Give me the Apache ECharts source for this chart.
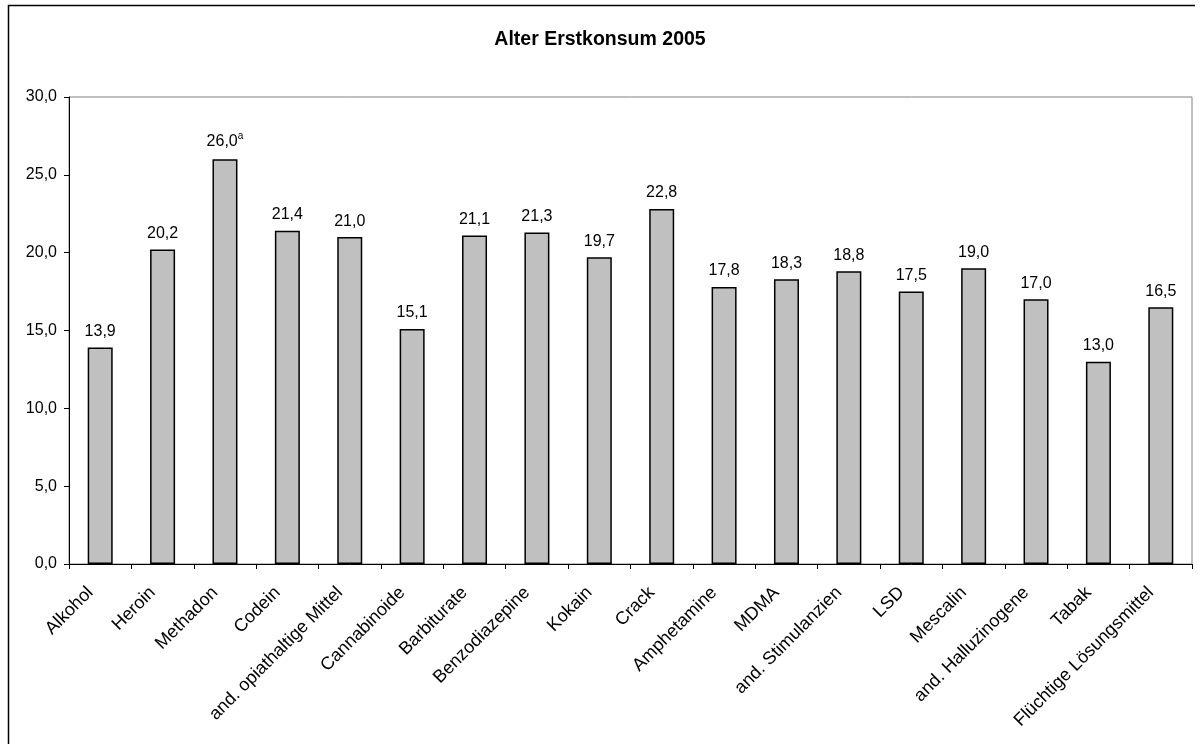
<!DOCTYPE html>
<html>
<head>
<meta charset="utf-8">
<script src="https://cdn.jsdelivr.net/npm/echarts@6/dist/echarts.min.js"></script>
<style>
html, body { margin: 0; padding: 0; background: #fff; }
#chart { width: 1200px; height: 744px; }
</style>
</head>
<body>
<div id="chart"></div>
<script>
// Daten
let categories = ['Alkohol', 'Heroin', 'Methadon', 'Codein', 'and. opiathaltige Mittel', 'Cannabinoide',
	'Barbiturate', 'Benzodiazepine', 'Kokain', 'Crack', 'Amphetamine', 'MDMA', 'and. Stimulanzien',
	'LSD', 'Mescalin', 'and. Halluzinogene', 'Tabak', 'Flüchtige Lösungsmittel'];
let alter = [13.9, 20.2, 26.0, 21.4, 21.0, 15.1, 21.1, 21.3, 19.7, 22.8, 17.8, 18.3, 18.8, 17.5, 19.0, 17.0, 13.0, 16.5];
let fussnoten = ['', '', 'a', '', '', '', '', '', '', '', '', '', '', '', '', '', '', ''];
let yTicks = [0, 5, 10, 15, 20, 25, 30];

function komma(v) {
	return v.toFixed(1).replace('.', ',');
}

let myChart = echarts.init(document.getElementById('chart'));
let font = '"Liberation Sans", Arial, sans-serif';

let option = {
	backgroundColor: '#fff',
	animation: false,
	title: {
		text: 'Alter Erstkonsum 2005',
		left: 'center',
		top: 25,
		textStyle: { fontFamily: font, fontSize: 19.5, fontWeight: 'bold', color: '#000' }
	},
	graphic: [{
		type: 'polyline',
		shape: { points: [[8.5, 744], [8.5, 5.5], [1195, 5.5]] },
		style: { stroke: '#000', lineWidth: 1.5, fill: null }
	}],
	grid: {
		left: 69, right: 8, top: 97, bottom: 180,
		show: true, borderColor: '#808080', borderWidth: 1
	},
	xAxis: {
		type: 'category',
		data: categories,
		axisLine: { lineStyle: { color: '#000', width: 1 } },
		axisTick: { show: true, inside: false, length: 5, lineStyle: { color: '#000' } },
		axisLabel: {
			rotate: 45, interval: 0, margin: 16,
			padding: [0, 14, 0, 0],
			fontFamily: font, fontSize: 18, color: '#000'
		}
	},
	yAxis: {
		type: 'value',
		min: yTicks[0],
		max: yTicks[yTicks.length - 1],
		interval: 5,
		splitLine: { show: false },
		axisLine: { show: true, lineStyle: { color: '#000', width: 1 } },
		axisTick: { show: true, length: 5, lineStyle: { color: '#000' } },
		axisLabel: {
			formatter: function(v) { return komma(v); },
			fontFamily: font, fontSize: 16, color: '#000', margin: 12
		}
	},
	series: [{
		type: 'bar',
		data: alter,
		barWidth: 25,
		itemStyle: { color: '#C0C0C0', borderColor: '#000', borderWidth: 1.5 },
		label: {
			show: true,
			position: 'top',
			distance: 8,
			fontFamily: font, fontSize: 16, color: '#000',
			formatter: function(p) {
				let f = fussnoten[p.dataIndex];
				return komma(p.value) + (f ? '{sup|' + f + '}' : '');
			},
			rich: {
				sup: { fontFamily: font, fontSize: 10, color: '#000', verticalAlign: 'top', padding: [0, 0, 10, 0] }
			}
		}
	}]
};
myChart.setOption(option);
</script>
</body>
</html>
